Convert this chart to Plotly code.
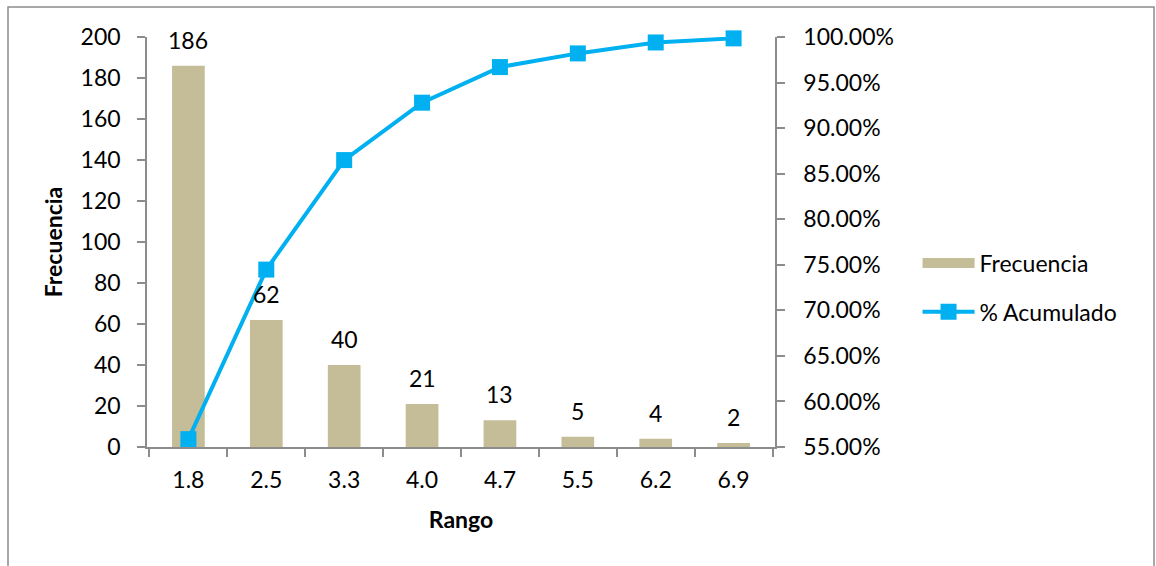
import plotly.graph_objects as go

rangos = ["1.8", "2.5", "3.3", "4.0", "4.7", "5.5", "6.2", "6.9"]
frecuencia = [186, 62, 40, 21, 13, 5, 4, 2]
acumulado = [0.5586, 0.7447, 0.8649, 0.9279, 0.9670, 0.9820, 0.9940, 0.9985]

FONT = "Lato, Open Sans, sans-serif"
FS = 23
AXC = "#8c8c8c"
BAR = "#C4BD97"
LINE = "#00B0F0"

fig = go.Figure()
fig.add_trace(go.Bar(
    x=rangos, y=frecuencia, name="Frecuencia",
    marker=dict(color=BAR, line=dict(width=0)),
    showlegend=False,
))
# legend entry for bars drawn as a wide swatch
fig.add_trace(go.Scatter(
    x=[None], y=[None], name="Frecuencia", mode="lines",
    line=dict(color=BAR, width=16), legendgroup="a",
))
fig.add_trace(go.Scatter(
    x=rangos, y=acumulado, name="% Acumulado", yaxis="y2",
    mode="lines+markers",
    line=dict(color=LINE, width=4),
    marker=dict(symbol="square", size=16, color=LINE),
    cliponaxis=False, legendgroup="b",
))

# category axis: annotation x given as the category index
for i, v in enumerate(frecuencia):
    fig.add_annotation(x=i, y=v, xref="x", yref="y", text=str(v), showarrow=False,
                       yanchor="middle", yshift=26,
                       font=dict(size=FS, color="black", family=FONT))

tick_common = dict(ticks="outside", ticklen=8, tickcolor=AXC, tickwidth=1.5,
                   showline=True, linecolor=AXC, linewidth=1.5, showgrid=False)

fig.update_layout(
    width=1156, height=566,
    margin=dict(l=147, r=381, t=37, b=119),
    paper_bgcolor="white", plot_bgcolor="white",
    font=dict(family=FONT, size=FS, color="black"),
    bargap=0.58,
    showlegend=True,
    legend=dict(x=1.227, y=0.389, xanchor="left", yanchor="middle",
                font=dict(size=FS), tracegroupgap=16, itemwidth=52,
                bgcolor="rgba(0,0,0,0)"),
    xaxis=dict(
        **tick_common, type="category", categoryorder="array", categoryarray=rangos,
        tickson="boundaries", ticklabelstandoff=12,
        title=dict(text="<b>Rango</b>", font=dict(size=FS), standoff=20),
    ),
    yaxis=dict(
        **tick_common, range=[0, 200], dtick=20, zeroline=False, ticklabelstandoff=12,
        title=dict(text="<b>Frecuencia</b>", font=dict(size=FS), standoff=12),
    ),
    yaxis2=dict(
        **tick_common, range=[0.55, 1.0], dtick=0.05, tickformat=".2%",
        overlaying="y", side="right", zeroline=False, ticklabelstandoff=14,
    ),
)

fig.add_shape(type="rect", xref="paper", yref="paper",
              x0=(8 - 147) / 628, x1=(1154 - 147) / 628,
              y0=(447 - 600) / 410, y1=(447 - 7) / 410,
              line=dict(color=AXC, width=1.5), fillcolor="rgba(0,0,0,0)", layer="below")

fig.write_html("out.html")
